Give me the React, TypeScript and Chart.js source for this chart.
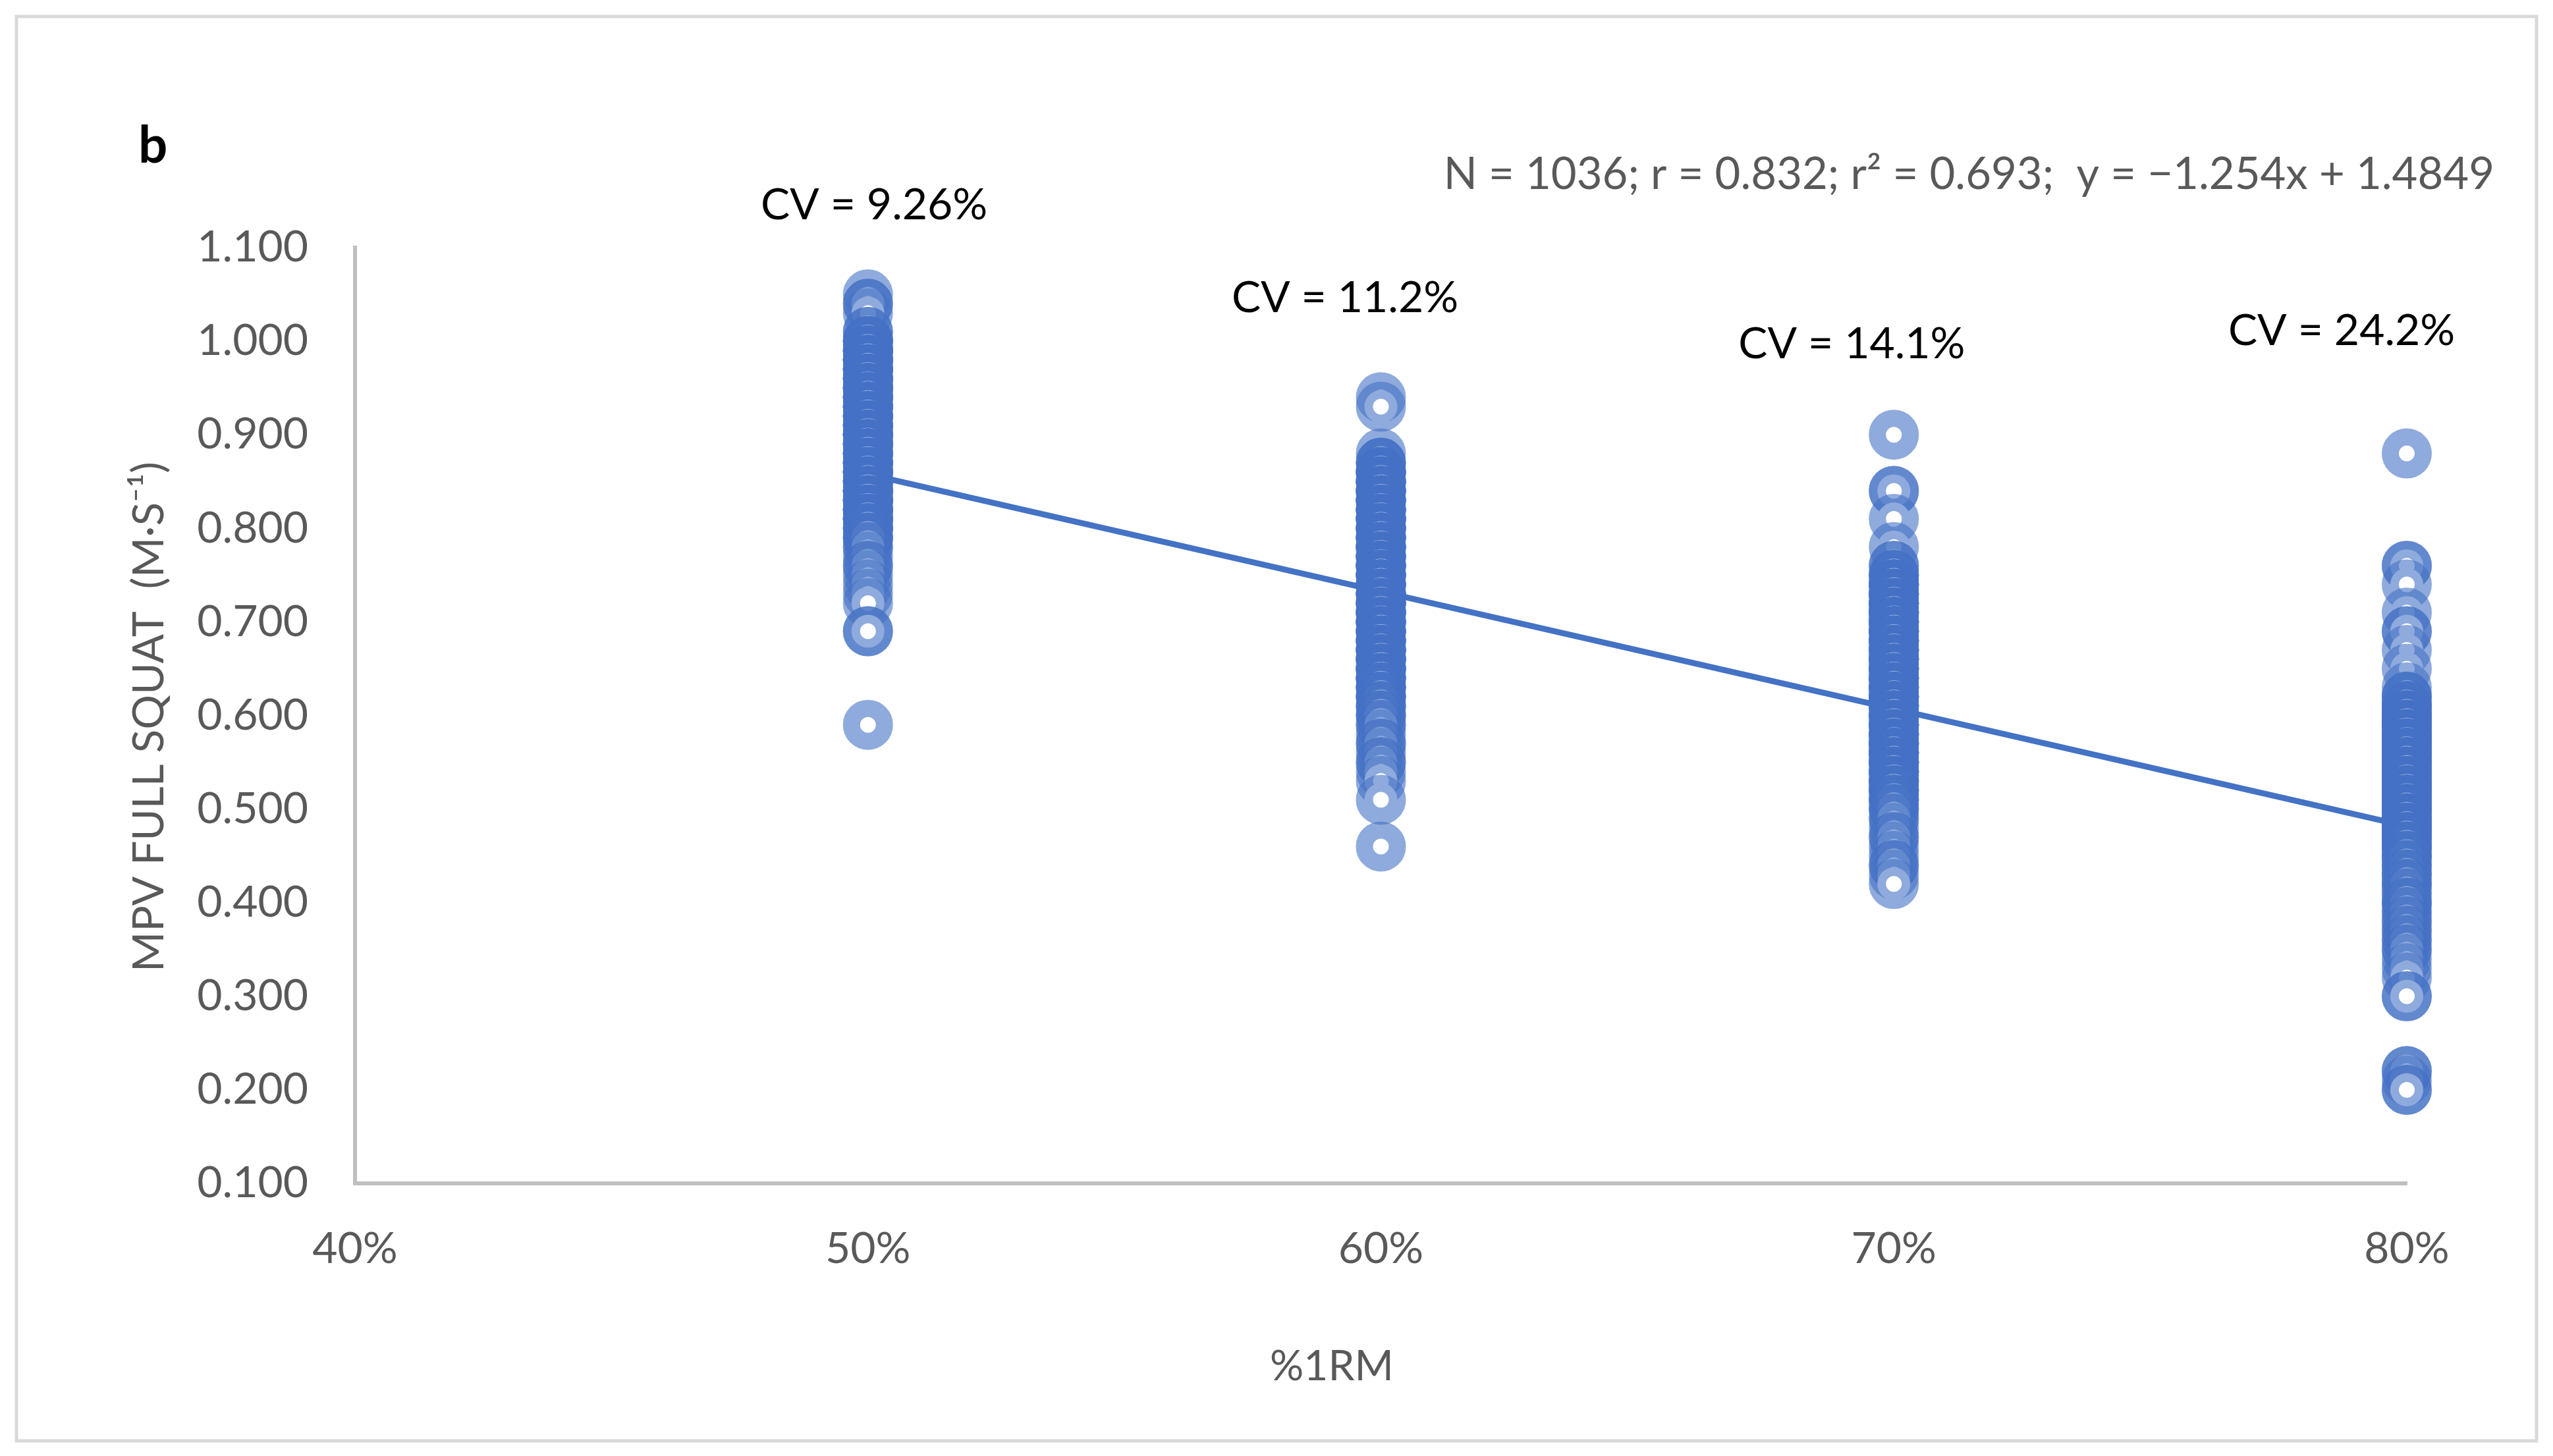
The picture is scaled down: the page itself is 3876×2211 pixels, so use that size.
import React, { useEffect, useRef } from "react";
import { Chart, registerables } from "chart.js";

Chart.register(...registerables);

// %1RM categories (x positions of the groups)
const loadLevels = [0.5, 0.6, 0.7, 0.8];

// MPV full squat values (m·s⁻¹), with the estimated number
// of overlapping observations at each value (one pair of lists per load)
const mpv50Values = [
  1.05, 1.04, 1.03, 1.01, 1.0, 0.99, 0.98, 0.97, 0.96, 0.95, 0.94, 0.93, 0.92, 0.91, 0.9, 0.89,
  0.88, 0.87, 0.86, 0.85, 0.84, 0.83, 0.82, 0.81, 0.8, 0.79, 0.78, 0.77, 0.76, 0.75, 0.74, 0.73,
  0.72, 0.69, 0.59,
];
const mpv50Counts = [
  1, 2, 1, 2, 5, 7, 7, 7, 7, 7, 7, 7, 7, 7, 7, 7,
  7, 7, 7, 7, 7, 7, 7, 6, 5, 4, 2, 1, 2, 1, 1, 1,
  1, 2, 1,
];

const mpv60Values = [
  0.94, 0.93, 0.88, 0.87, 0.86, 0.85, 0.84, 0.83, 0.82, 0.81, 0.8, 0.79, 0.78, 0.77, 0.76, 0.75,
  0.74, 0.73, 0.72, 0.71, 0.7, 0.69, 0.68, 0.67, 0.66, 0.65, 0.64, 0.63, 0.62, 0.61, 0.6, 0.59,
  0.58, 0.57, 0.56, 0.55, 0.54, 0.53, 0.51, 0.46,
];
const mpv60Counts = [
  1, 1, 1, 3, 6, 7, 7, 7, 7, 7, 7, 7, 7, 7, 7, 7,
  7, 7, 7, 7, 7, 7, 7, 7, 7, 7, 6, 5, 4, 3, 3, 2,
  1, 2, 1, 2, 1, 1, 1, 1,
];

const mpv70Values = [
  0.9, 0.84, 0.81, 0.78, 0.76, 0.75, 0.74, 0.73, 0.72, 0.71, 0.7, 0.69, 0.68, 0.67, 0.66, 0.65,
  0.64, 0.63, 0.62, 0.61, 0.6, 0.59, 0.58, 0.57, 0.56, 0.55, 0.54, 0.53, 0.52, 0.51, 0.5, 0.49,
  0.48, 0.47, 0.46, 0.45, 0.44, 0.43, 0.42,
];
const mpv70Counts = [
  1, 2, 1, 1, 2, 4, 6, 7, 7, 7, 7, 7, 7, 7, 7, 7,
  7, 7, 7, 7, 7, 7, 7, 7, 7, 7, 7, 6, 5, 4, 3, 2,
  1, 2, 1, 1, 2, 1, 1,
];

const mpv80Values = [
  0.88, 0.76, 0.74, 0.71, 0.69, 0.67, 0.65, 0.63, 0.62, 0.61, 0.6, 0.59, 0.58, 0.57, 0.56, 0.55,
  0.54, 0.53, 0.52, 0.51, 0.5, 0.49, 0.48, 0.47, 0.46, 0.45, 0.44, 0.43, 0.42, 0.41, 0.4, 0.39,
  0.38, 0.37, 0.36, 0.35, 0.34, 0.33, 0.32, 0.3, 0.22, 0.21, 0.2,
];
const mpv80Counts = [
  1, 2, 1, 1, 2, 1, 1, 1, 3, 5, 7, 7, 7, 7, 7, 7,
  7, 7, 7, 7, 7, 7, 7, 6, 5, 4, 3, 3, 3, 2, 3, 2,
  2, 2, 2, 2, 1, 1, 1, 2, 2, 1, 2,
];

const groupValues = [mpv50Values, mpv60Values, mpv70Values, mpv80Values];
const groupCounts = [mpv50Counts, mpv60Counts, mpv70Counts, mpv80Counts];

// linear trend line end points (y = −1.254x + 1.4849)
const trendX = [0.5, 0.8];
const trendY = [0.8579, 0.4817];

// axis ticks
const xTickValues = [0.4, 0.5, 0.6, 0.7, 0.8];
const yTickValues = [0.1, 0.2, 0.3, 0.4, 0.5, 0.6, 0.7, 0.8, 0.9, 1.0, 1.1];

// CV labels
const cvLabels = ["CV = 9.26%", "CV = 11.2%", "CV = 14.1%", "CV = 24.2%"];

const statsText = "N = 1036; r = 0.832; r\u00B2 = 0.693;  y = \u22121.254x + 1.4849";
const yTitle = "MPV FULL SQUAT  (M\u00B7S\u207B\u00B9)";
const xTitle = "%1RM";
const panelLetter = "b";

// label anchors (data coordinates) for the CV labels
const cvAnchors = [
  { x: 0.5012, y: 1.145 },
  { x: 0.593, y: 1.046 },
  { x: 0.6918, y: 0.997 },
  { x: 0.7873, y: 1.011 },
];

const FONT = "Lato, 'Open Sans', sans-serif";
const BLUE = "#4472C4";
const RING = "rgba(68,114,196,0.6)";
const GREY_TEXT = "#595959";

const W = 3876;
const H = 2211;

const decorPlugin = {
  id: "decor",
  beforeDraw(chart: any) {
    const ctx = chart.ctx;
    ctx.save();
    ctx.fillStyle = "#ffffff";
    ctx.fillRect(0, 0, chart.width, chart.height);
    ctx.strokeStyle = "#D9D9D9";
    ctx.lineWidth = 5;
    ctx.strokeRect(25, 25, chart.width - 50, chart.height - 48);
    ctx.restore();
  },
  afterDraw(chart: any) {
    const ctx = chart.ctx;
    const xs = chart.scales.x;
    const ys = chart.scales.y;
    ctx.save();
    ctx.fillStyle = "#000000";
    ctx.font = `bold 78px ${FONT}`;
    ctx.textAlign = "left";
    ctx.textBaseline = "alphabetic";
    ctx.fillText(panelLetter, 210, 247);

    ctx.fillStyle = GREY_TEXT;
    ctx.font = `67px ${FONT}`;
    ctx.textAlign = "right";
    ctx.textBaseline = "middle";
    ctx.fillText(statsText, 3787, 265);

    ctx.fillStyle = "#000000";
    ctx.font = `66px ${FONT}`;
    ctx.textAlign = "center";
    ctx.textBaseline = "middle";
    cvLabels.forEach((t, i) => {
      ctx.fillText(t, xs.getPixelForValue(cvAnchors[i].x), ys.getPixelForValue(cvAnchors[i].y));
    });

    ctx.fillStyle = GREY_TEXT;
    ctx.font = `64px ${FONT}`;
    ctx.fillText(xTitle, 2022, 2075);

    ctx.translate(227, (ys.top + ys.bottom) / 2 + 2);
    ctx.rotate(-Math.PI / 2);
    ctx.font = `66px ${FONT}`;
    ctx.fillText(yTitle, 0, 0);
    ctx.restore();
  },
};

export default function App() {
  const ref = useRef<HTMLCanvasElement | null>(null);

  useEffect(() => {
    document.body.style.margin = "0";
    const canvas = ref.current;
    if (!canvas) return;

    const datasets: any[] = groupValues.map((vals, gi) => {
      const pts: { x: number; y: number }[] = [];
      vals.forEach((v, vi) => {
        for (let k = 0; k < groupCounts[gi][vi]; k++) pts.push({ x: loadLevels[gi], y: v });
      });
      return {
        type: "scatter",
        label: `${Math.round(loadLevels[gi] * 100)}%`,
        data: pts,
        pointRadius: 25,
        pointHoverRadius: 25,
        pointBorderWidth: 26,
        borderWidth: 26,
        pointBackgroundColor: "#ffffff",
        backgroundColor: "#ffffff",
        pointBorderColor: RING,
        borderColor: RING,
        clip: false,
        order: 1,
      };
    });
    datasets.push({
      type: "line",
      label: "trend",
      data: trendX.map((x, i) => ({ x, y: trendY[i] })),
      borderColor: BLUE,
      borderWidth: 9,
      pointRadius: 0,
      fill: false,
      order: 2,
    });

    const chart = new Chart(canvas, {
      type: "scatter",
      data: { datasets },
      options: {
        animation: false,
        responsive: false,
        devicePixelRatio: 1,
        layout: { padding: { top: 376, right: 222, left: 0, bottom: 0 } },
        plugins: { legend: { display: false }, tooltip: { enabled: false } },
        scales: {
          x: {
            type: "linear",
            min: 0.4,
            max: 0.8,
            afterFit: (s: any) => {
              s.height = H - 1797;
            },
            afterBuildTicks: (s: any) => {
              s.ticks = xTickValues.map((v) => ({ value: v }));
            },
            grid: { display: false, drawTicks: false },
            border: { display: true, color: "#BFBFBF", width: 6 },
            ticks: {
              padding: 60,
              color: GREY_TEXT,
              font: { family: FONT, size: 66 },
              callback: (v: any) => `${Math.round(Number(v) * 100)}%`,
            },
          },
          y: {
            type: "linear",
            min: 0.1,
            max: 1.1,
            afterFit: (s: any) => {
              s.width = 539;
            },
            afterBuildTicks: (s: any) => {
              s.ticks = yTickValues.map((v) => ({ value: v }));
            },
            grid: { display: false, drawTicks: false },
            border: { display: true, color: "#BFBFBF", width: 6 },
            ticks: {
              padding: 71,
              color: GREY_TEXT,
              font: { family: FONT, size: 66 },
              callback: (v: any) => Number(v).toFixed(3),
            },
          },
        },
      },
      plugins: [decorPlugin],
    });

    return () => chart.destroy();
  }, []);

  return (
    <div style={{ position: "fixed", left: 0, top: 0, width: W, height: H }}>
      <canvas ref={ref} width={W} height={H} style={{ display: "block", width: W, height: H }} />
    </div>
  );
}
